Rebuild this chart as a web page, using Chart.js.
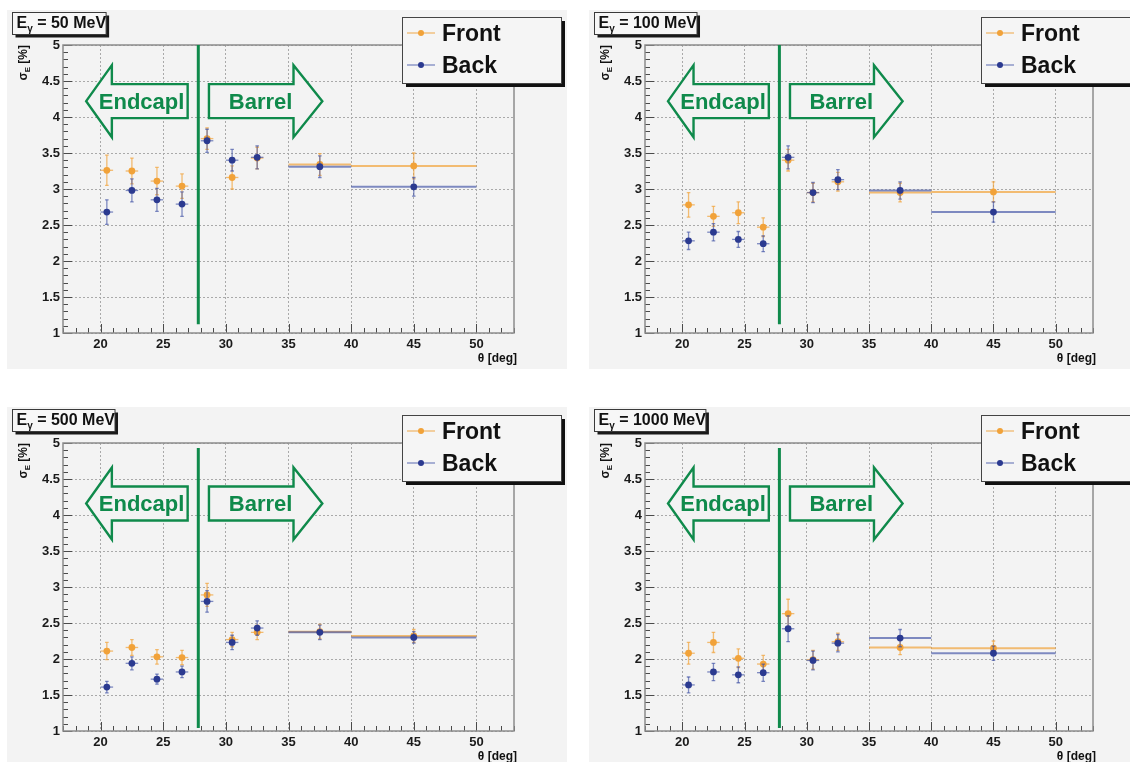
<!DOCTYPE html>
<html>
<head>
<meta charset="utf-8">
<title>Energy resolution vs polar angle</title>
<script src="https://cdn.jsdelivr.net/npm/chart.js@4.4.1/dist/chart.umd.min.js"></script>
<style>
  html, body { margin: 0; padding: 0; background: #ffffff; width: 1130px; height: 762px; overflow: hidden; }
  .panel { position: absolute; background: #f3f3f3; overflow: hidden; }
  .panel canvas { display: block; }
</style>
</head>
<body>
<div class="panel" style="left:7px;top:10px;width:560px;height:359px"><canvas id="c50" width="560" height="359"></canvas></div>
<div class="panel" style="left:589px;top:10px;width:541px;height:359px"><canvas id="c100" width="541" height="359"></canvas></div>
<div class="panel" style="left:7px;top:407px;width:560px;height:355px"><canvas id="c500" width="560" height="355"></canvas></div>
<div class="panel" style="left:589px;top:407px;width:541px;height:355px"><canvas id="c1000" width="541" height="355"></canvas></div>
<script>
// ---- data -------------------------------------------------------------
// polar-angle bin centres and half-widths [deg]
const theta    = [20.5, 22.5, 24.5, 26.5, 28.5, 30.5, 32.5, 37.5, 45];
const thetaErr = [0.5, 0.5, 0.5, 0.5, 0.5, 0.5, 0.5, 2.5, 5];

// axis ticks
const xTicks      = [20, 25, 30, 35, 40, 45, 50];
const xTickLabels = ['20', '25', '30', '35', '40', '45', '50'];
const yTicks      = [1, 1.5, 2, 2.5, 3, 3.5, 4, 4.5, 5];
const yTickLabels = ['1', '1.5', '2', '2.5', '3', '3.5', '4', '4.5', '5'];

// photon energies [MeV]
const energies = [50, 100, 500, 1000];

// sigma_E [%] and errors, front / back
const front50     = [3.26, 3.25, 3.11, 3.04, 3.70, 3.16, 3.43, 3.34, 3.32];
const front50Err  = [0.21, 0.18, 0.19, 0.17, 0.15, 0.16, 0.15, 0.15, 0.18];
const back50      = [2.68, 2.98, 2.85, 2.79, 3.67, 3.40, 3.44, 3.31, 3.03];
const back50Err   = [0.17, 0.16, 0.16, 0.17, 0.16, 0.15, 0.16, 0.15, 0.13];

const front100    = [2.78, 2.62, 2.67, 2.47, 3.40, 2.95, 3.10, 2.95, 2.96];
const front100Err = [0.17, 0.14, 0.15, 0.13, 0.15, 0.13, 0.13, 0.13, 0.14];
const back100     = [2.28, 2.40, 2.30, 2.24, 3.44, 2.95, 3.13, 2.98, 2.68];
const back100Err  = [0.12, 0.12, 0.11, 0.11, 0.16, 0.14, 0.14, 0.12, 0.14];

const front500    = [2.11, 2.16, 2.03, 2.02, 2.89, 2.27, 2.37, 2.38, 2.32];
const front500Err = [0.12, 0.11, 0.10, 0.10, 0.16, 0.10, 0.10, 0.10, 0.09];
const back500     = [1.61, 1.94, 1.72, 1.82, 2.80, 2.23, 2.43, 2.37, 2.30];
const back500Err  = [0.08, 0.09, 0.07, 0.08, 0.15, 0.10, 0.10, 0.10, 0.08];

const front1000    = [2.08, 2.23, 2.01, 1.93, 2.63, 1.99, 2.24, 2.16, 2.15];
const front1000Err = [0.15, 0.14, 0.13, 0.12, 0.20, 0.13, 0.12, 0.10, 0.10];
const back1000     = [1.64, 1.82, 1.78, 1.81, 2.42, 1.98, 2.22, 2.29, 2.08];
const back1000Err  = [0.11, 0.12, 0.11, 0.12, 0.18, 0.13, 0.12, 0.12, 0.10];

// ---- styling ----------------------------------------------------------
const FONT = '"Liberation Sans", Arial, Helvetica, sans-serif';
const PANEL_BG = '#f3f3f3';
const GREEN = '#0f8a4b';
const ORANGE = '#f1a239';
const ORANGE_ERR = 'rgba(241,162,57,0.70)';
const BLUE = '#2b3a90';
const BLUE_ERR = 'rgba(62,80,165,0.65)';

const panels = [
  { id: 'c50',   energy: energies[0], front: front50,   frontErr: front50Err,   back: back50,   backErr: back50Err,
    pad: { left: 16, top: 35, right: 53, bottom: 6 }, arrowY: 4.22, divider: [1.12, 5.0] },
  { id: 'c100',  energy: energies[1], front: front100,  frontErr: front100Err,  back: back100,  backErr: back100Err,
    pad: { left: 16, top: 35, right: 37, bottom: 6 }, arrowY: 4.22, divider: [1.12, 5.0] },
  { id: 'c500',  energy: energies[2], front: front500,  frontErr: front500Err,  back: back500,  backErr: back500Err,
    pad: { left: 16, top: 36, right: 53, bottom: 1 }, arrowY: 4.16, divider: [1.04, 4.93] },
  { id: 'c1000', energy: energies[3], front: front1000, frontErr: front1000Err, back: back1000, backErr: back1000Err,
    pad: { left: 16, top: 36, right: 37, bottom: 1 }, arrowY: 4.16, divider: [1.04, 4.93] }
];

// ---- plugins ----------------------------------------------------------
// x and y error bars, drawn right under each dataset's markers
const errorBars = {
  id: 'errorBars',
  beforeDatasetDraw(chart, args) {
    const ds = chart.data.datasets[args.index];
    const { ctx, chartArea: a, scales: { x, y } } = chart;
    ctx.save();
    ctx.beginPath(); ctx.rect(a.left, a.top, a.width, a.height); ctx.clip();
    ctx.strokeStyle = ds.errColor;
    ds.data.forEach(p => {
      const px = x.getPixelForValue(p.x), py = y.getPixelForValue(p.y);
      const x0 = x.getPixelForValue(p.x - p.xErr), x1 = x.getPixelForValue(p.x + p.xErr);
      const y0 = y.getPixelForValue(p.y - p.yErr), y1 = y.getPixelForValue(p.y + p.yErr);
      ctx.lineWidth = p.xErr > 1 ? 2 : 1.3;
      ctx.beginPath(); ctx.moveTo(x0, py); ctx.lineTo(x1, py); ctx.stroke();
      ctx.lineWidth = 1.3;
      ctx.beginPath(); ctx.moveTo(px, y0); ctx.lineTo(px, y1); ctx.stroke();
      ctx.beginPath();
      ctx.moveTo(px - 1.8, y0); ctx.lineTo(px + 1.8, y0);
      ctx.moveTo(px - 1.8, y1); ctx.lineTo(px + 1.8, y1);
      ctx.stroke();
    });
    ctx.restore();
  }
};

function arrowPath(ctx, xt, xh, xs, yc, H, S) {
  ctx.beginPath();
  ctx.moveTo(xt, yc);
  ctx.lineTo(xh, yc - H);
  ctx.lineTo(xh, yc - S);
  ctx.lineTo(xs, yc - S);
  ctx.lineTo(xs, yc + S);
  ctx.lineTo(xh, yc + S);
  ctx.lineTo(xh, yc + H);
  ctx.closePath();
}

// frame, tick marks, region divider and Endcap / Barrel arrows
const frameDecor = {
  id: 'frameDecor',
  afterDatasetsDraw(chart, args, opts) {
    const { ctx, chartArea: a, scales: { x, y } } = chart;
    ctx.save();
    // tick marks
    ctx.strokeStyle = '#4a4a4a'; ctx.lineWidth = 1;
    ctx.beginPath();
    for (let v = Math.ceil(x.min); v <= Math.floor(x.max); v++) {
      const px = Math.round(x.getPixelForValue(v)) + 0.5;
      const len = v % 5 === 0 ? 9 : 5;
      ctx.moveTo(px, a.bottom); ctx.lineTo(px, a.bottom - len);
    }
    for (let k = 10; k <= 50; k++) {
      const v = k / 10;
      const py = Math.round(y.getPixelForValue(v)) + 0.5;
      const len = k % 5 === 0 ? 9 : 5;
      ctx.moveTo(a.left, py); ctx.lineTo(a.left + len, py);
    }
    ctx.stroke();
    // frame
    ctx.strokeStyle = '#8c8c8c'; ctx.lineWidth = 1.5;
    ctx.strokeRect(a.left, a.top, a.width, a.height);

    // divider between end cap and barrel
    const dx = x.getPixelForValue(27.8);
    ctx.strokeStyle = GREEN; ctx.lineWidth = 3;
    ctx.beginPath();
    ctx.moveTo(dx, y.getPixelForValue(opts.divider[1]));
    ctx.lineTo(dx, y.getPixelForValue(opts.divider[0]));
    ctx.stroke();

    // arrows
    const yc = y.getPixelForValue(opts.arrowY);
    ctx.lineWidth = 2.4; ctx.lineJoin = 'miter';
    ctx.fillStyle = PANEL_BG;
    arrowPath(ctx, x.getPixelForValue(18.85), x.getPixelForValue(20.9), x.getPixelForValue(26.95), yc, 36, 17);
    ctx.fill(); ctx.stroke();
    arrowPath(ctx, x.getPixelForValue(37.7), x.getPixelForValue(35.4), x.getPixelForValue(28.65), yc, 36, 17);
    ctx.fill(); ctx.stroke();
    ctx.fillStyle = GREEN;
    ctx.font = `bold 22px ${FONT}`;
    ctx.textAlign = 'center'; ctx.textBaseline = 'alphabetic';
    ctx.fillText('Endcapl', x.getPixelForValue(23.27), yc + 8);
    ctx.fillText('Barrel', x.getPixelForValue(32.77), yc + 8);
    ctx.restore();
  },
  afterDraw(chart, args, opts) {
    const { ctx, chartArea: a } = chart;
    ctx.save();

    // energy label box
    const bx = 5.5, by = 2.5, bh = 22;
    ctx.font = `bold 16px ${FONT}`;
    const wE = ctx.measureText('E').width;
    const rest = ` = ${opts.energy} MeV`;
    const wR = ctx.measureText(rest).width;
    ctx.font = `bold 10px ${FONT}`;
    const wG = ctx.measureText('γ').width;
    const bw = wE + wG + wR + 4;
    ctx.fillStyle = '#1a1a1a'; ctx.fillRect(bx + 3, by + 3, bw, bh);
    ctx.fillStyle = '#f7f7f7'; ctx.fillRect(bx, by, bw, bh);
    ctx.strokeStyle = '#3a3a3a'; ctx.lineWidth = 1; ctx.strokeRect(bx, by, bw, bh);
    ctx.fillStyle = '#111'; ctx.textAlign = 'left'; ctx.textBaseline = 'alphabetic';
    const tb = by + 15;
    ctx.font = `bold 16px ${FONT}`; ctx.fillText('E', bx + 4, tb);
    ctx.font = `bold 10px ${FONT}`; ctx.fillText('γ', bx + 4 + wE, tb + 4);
    ctx.font = `bold 16px ${FONT}`; ctx.fillText(rest, bx + 4 + wE + wG, tb);

    // legend
    const lx = a.right - 112, ly = a.top - 28, lw = 159, lh = 66;
    ctx.fillStyle = '#111'; ctx.fillRect(lx + 4, ly + 4, lw, lh);
    ctx.fillStyle = '#f5f5f5'; ctx.fillRect(lx, ly, lw, lh);
    ctx.strokeStyle = '#444'; ctx.lineWidth = 1; ctx.strokeRect(lx + 0.5, ly + 0.5, lw, lh);
    const order = [0, 1];
    order.forEach((di, i) => {
      const ds = chart.data.datasets[di];
      const yy = ly + 16 + 32 * i;
      ctx.strokeStyle = ds.errColor; ctx.lineWidth = 1.3;
      ctx.beginPath(); ctx.moveTo(lx + 5, yy); ctx.lineTo(lx + 33, yy); ctx.stroke();
      ctx.fillStyle = ds.backgroundColor;
      ctx.beginPath(); ctx.arc(lx + 19, yy, 3, 0, Math.PI * 2); ctx.fill();
      ctx.fillStyle = '#111';
      ctx.font = `bold 23px ${FONT}`;
      ctx.fillText(ds.label, lx + 40, yy + 7.5);
    });

    // axis titles
    ctx.fillStyle = '#111';
    ctx.font = `bold 12px ${FONT}`;
    ctx.textAlign = 'right';
    ctx.fillText('θ [deg]', a.right + 3, a.bottom + 28.5);

    ctx.translate(a.left - 36, a.top);
    ctx.rotate(-Math.PI / 2);
    ctx.textAlign = 'left';
    ctx.font = `bold 12px ${FONT}`;
    const wS = ctx.measureText('σ').width;
    const wB = ctx.measureText(' [%]').width;
    ctx.font = `bold 8px ${FONT}`;
    const wSub = ctx.measureText('E').width;
    let u = -(wS + wSub + wB);
    ctx.font = `bold 12px ${FONT}`; ctx.fillText('σ', u, 0); u += wS;
    ctx.font = `bold 8px ${FONT}`; ctx.fillText('E', u, 3); u += wSub;
    ctx.font = `bold 12px ${FONT}`; ctx.fillText(' [%]', u, 0);
    ctx.restore();
  }
};

// ---- charts -----------------------------------------------------------
panels.forEach(p => {
  const pts = (vals, errs) => theta.map((t, i) => ({ x: t, y: vals[i], xErr: thetaErr[i], yErr: errs[i] }));
  new Chart(document.getElementById(p.id), {
    type: 'scatter',
    data: {
      datasets: [
        { label: 'Front', data: pts(p.front, p.frontErr), backgroundColor: ORANGE, borderColor: ORANGE,
          errColor: ORANGE_ERR, pointRadius: 3.4, pointBorderWidth: 0, order: 1 },
        { label: 'Back', data: pts(p.back, p.backErr), backgroundColor: BLUE, borderColor: BLUE,
          errColor: BLUE_ERR, pointRadius: 3.4, pointBorderWidth: 0, order: 0 }
      ]
    },
    options: {
      responsive: false,
      animation: false,
      devicePixelRatio: 1,
      layout: { padding: p.pad },
      plugins: {
        legend: { display: false },
        tooltip: { enabled: false },
        frameDecor: { energy: p.energy, arrowY: p.arrowY, divider: p.divider }
      },
      scales: {
        x: {
          type: 'linear', min: 17, max: 53,
          afterBuildTicks: s => { s.ticks = xTicks.map(v => ({ value: v })); },
          afterFit: s => { s.height = 30; },
          grid: { color: '#a9a9a9', lineWidth: 1, drawTicks: false },
          border: { display: false, dash: [2, 2] },
          ticks: {
            autoSkip: false, maxRotation: 0, padding: 4, color: '#1a1a1a',
            font: { family: FONT, size: 13, weight: 'bold' },
            callback: (v, i) => xTickLabels[i]
          }
        },
        y: {
          type: 'linear', min: 1, max: 5,
          afterBuildTicks: s => { s.ticks = yTicks.map(v => ({ value: v })); },
          afterFit: s => { s.width = 40; },
          grid: { color: '#a9a9a9', lineWidth: 1, drawTicks: false },
          border: { display: false, dash: [2, 2] },
          ticks: {
            autoSkip: false, padding: 3, color: '#1a1a1a',
            font: { family: FONT, size: 13, weight: 'bold' },
            callback: (v, i) => yTickLabels[i]
          }
        }
      }
    },
    plugins: [errorBars, frameDecor]
  });
});
</script>
</body>
</html>
